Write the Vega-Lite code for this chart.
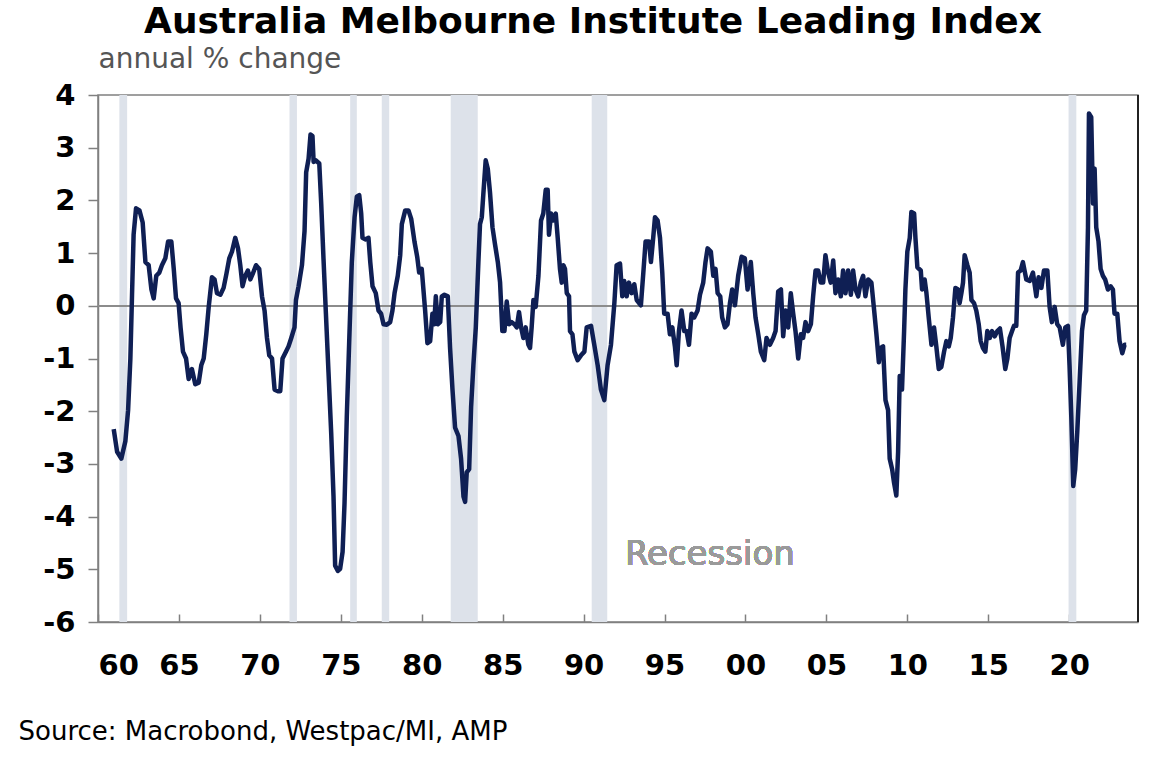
{
  "$schema": "https://vega.github.io/schema/vega-lite/v6.json",
  "width": 1040,
  "height": 527,
  "autosize": "none",
  "padding": {"left": 98, "top": 95, "right": 29, "bottom": 144},
  "background": "white",
  "title": {
    "text": "Australia Melbourne Institute Leading Index",
    "font": "DejaVu Sans",
    "fontSize": 36,
    "fontWeight": "bold",
    "color": "black",
    "anchor": "middle",
    "dx": -25,
    "offset": 4
  },
  "config": {
    "view": {"stroke": "#808080", "strokeWidth": 1.5},
    "axis": {
      "grid": false,
      "labelFont": "DejaVu Sans",
      "labelFontWeight": "bold",
      "labelFontSize": 29,
      "labelColor": "black",
      "domainColor": "#808080",
      "domainWidth": 1.5,
      "tickColor": "#808080",
      "tickWidth": 1.5
    }
  },
  "datasets": {
    "recessions": [
      {"start": 1961.32, "end": 1961.8},
      {"start": 1971.83, "end": 1972.29},
      {"start": 1975.58, "end": 1975.99},
      {"start": 1977.53, "end": 1977.99},
      {"start": 1981.79, "end": 1983.46},
      {"start": 1990.5, "end": 1991.46},
      {"start": 2019.96, "end": 2020.44}
    ],
    "index": [
      {"t": 1960.97, "v": -2.34}, {"t": 1961.18, "v": -2.77}, {"t": 1961.44, "v": -2.9}, {"t": 1961.69, "v": -2.57},
      {"t": 1961.86, "v": -1.98}, {"t": 1962.0, "v": -1.0}, {"t": 1962.1, "v": 0.18}, {"t": 1962.2, "v": 1.35},
      {"t": 1962.35, "v": 1.85}, {"t": 1962.56, "v": 1.81}, {"t": 1962.76, "v": 1.58}, {"t": 1962.93, "v": 0.83},
      {"t": 1963.13, "v": 0.77}, {"t": 1963.3, "v": 0.31}, {"t": 1963.44, "v": 0.14}, {"t": 1963.6, "v": 0.57},
      {"t": 1963.79, "v": 0.63}, {"t": 1963.95, "v": 0.77}, {"t": 1964.16, "v": 0.9}, {"t": 1964.33, "v": 1.22},
      {"t": 1964.53, "v": 1.22}, {"t": 1964.68, "v": 0.7}, {"t": 1964.82, "v": 0.14}, {"t": 1964.98, "v": 0.05},
      {"t": 1965.1, "v": -0.41}, {"t": 1965.25, "v": -0.87}, {"t": 1965.44, "v": -1.0}, {"t": 1965.6, "v": -1.39},
      {"t": 1965.8, "v": -1.2}, {"t": 1966.01, "v": -1.49}, {"t": 1966.22, "v": -1.46}, {"t": 1966.38, "v": -1.13},
      {"t": 1966.53, "v": -1.0}, {"t": 1966.69, "v": -0.54}, {"t": 1966.84, "v": -0.02}, {"t": 1967.04, "v": 0.54},
      {"t": 1967.2, "v": 0.5}, {"t": 1967.35, "v": 0.24}, {"t": 1967.56, "v": 0.21}, {"t": 1967.76, "v": 0.34},
      {"t": 1967.93, "v": 0.6}, {"t": 1968.11, "v": 0.9}, {"t": 1968.28, "v": 1.03}, {"t": 1968.48, "v": 1.29},
      {"t": 1968.65, "v": 1.09}, {"t": 1968.79, "v": 0.77}, {"t": 1968.93, "v": 0.37}, {"t": 1969.1, "v": 0.57},
      {"t": 1969.26, "v": 0.67}, {"t": 1969.41, "v": 0.5}, {"t": 1969.55, "v": 0.6}, {"t": 1969.76, "v": 0.77},
      {"t": 1969.96, "v": 0.7}, {"t": 1970.13, "v": 0.18}, {"t": 1970.29, "v": -0.09}, {"t": 1970.44, "v": -0.61},
      {"t": 1970.58, "v": -0.94}, {"t": 1970.75, "v": -1.0}, {"t": 1970.91, "v": -1.59}, {"t": 1971.12, "v": -1.62},
      {"t": 1971.26, "v": -1.62}, {"t": 1971.4, "v": -1.0}, {"t": 1971.61, "v": -0.87}, {"t": 1971.77, "v": -0.77},
      {"t": 1971.94, "v": -0.61}, {"t": 1972.14, "v": -0.41}, {"t": 1972.23, "v": 0.11}, {"t": 1972.39, "v": 0.37},
      {"t": 1972.6, "v": 0.77}, {"t": 1972.76, "v": 1.42}, {"t": 1972.86, "v": 2.53}, {"t": 1973.01, "v": 2.79},
      {"t": 1973.13, "v": 3.25}, {"t": 1973.25, "v": 3.22}, {"t": 1973.32, "v": 2.73}, {"t": 1973.46, "v": 2.76},
      {"t": 1973.67, "v": 2.7}, {"t": 1973.79, "v": 1.94}, {"t": 1973.93, "v": 0.9}, {"t": 1974.08, "v": -0.15},
      {"t": 1974.24, "v": -1.26}, {"t": 1974.41, "v": -2.44}, {"t": 1974.55, "v": -3.62}, {"t": 1974.65, "v": -4.93},
      {"t": 1974.82, "v": -5.03}, {"t": 1974.96, "v": -4.99}, {"t": 1975.11, "v": -4.67}, {"t": 1975.23, "v": -3.75},
      {"t": 1975.37, "v": -2.11}, {"t": 1975.52, "v": -0.67}, {"t": 1975.68, "v": 0.83}, {"t": 1975.85, "v": 1.68},
      {"t": 1975.99, "v": 2.07}, {"t": 1976.14, "v": 2.1}, {"t": 1976.26, "v": 1.75}, {"t": 1976.34, "v": 1.29},
      {"t": 1976.51, "v": 1.26}, {"t": 1976.71, "v": 1.29}, {"t": 1976.82, "v": 0.83}, {"t": 1976.96, "v": 0.37},
      {"t": 1977.16, "v": 0.24}, {"t": 1977.33, "v": -0.09}, {"t": 1977.49, "v": -0.15}, {"t": 1977.64, "v": -0.35},
      {"t": 1977.84, "v": -0.36}, {"t": 1978.05, "v": -0.31}, {"t": 1978.19, "v": -0.09}, {"t": 1978.32, "v": 0.24},
      {"t": 1978.52, "v": 0.57}, {"t": 1978.67, "v": 0.96}, {"t": 1978.77, "v": 1.55}, {"t": 1978.98, "v": 1.81},
      {"t": 1979.18, "v": 1.81}, {"t": 1979.35, "v": 1.65}, {"t": 1979.55, "v": 1.22}, {"t": 1979.72, "v": 0.93},
      {"t": 1979.84, "v": 0.63}, {"t": 1980.0, "v": 0.7}, {"t": 1980.21, "v": -0.09}, {"t": 1980.35, "v": -0.71},
      {"t": 1980.52, "v": -0.67}, {"t": 1980.66, "v": -0.15}, {"t": 1980.77, "v": -0.35}, {"t": 1980.87, "v": 0.18},
      {"t": 1980.99, "v": -0.35}, {"t": 1981.14, "v": -0.31}, {"t": 1981.24, "v": 0.18}, {"t": 1981.4, "v": 0.21},
      {"t": 1981.61, "v": 0.18}, {"t": 1981.75, "v": -0.8}, {"t": 1981.9, "v": -1.59}, {"t": 1982.06, "v": -2.31},
      {"t": 1982.27, "v": -2.47}, {"t": 1982.43, "v": -2.9}, {"t": 1982.58, "v": -3.62}, {"t": 1982.68, "v": -3.72},
      {"t": 1982.78, "v": -3.16}, {"t": 1982.93, "v": -3.1}, {"t": 1983.05, "v": -1.92}, {"t": 1983.19, "v": -1.13},
      {"t": 1983.34, "v": -0.41}, {"t": 1983.5, "v": 0.83}, {"t": 1983.6, "v": 1.55}, {"t": 1983.71, "v": 1.68},
      {"t": 1983.81, "v": 2.14}, {"t": 1983.95, "v": 2.76}, {"t": 1984.08, "v": 2.6}, {"t": 1984.22, "v": 2.14},
      {"t": 1984.37, "v": 1.49}, {"t": 1984.53, "v": 1.16}, {"t": 1984.7, "v": 0.83}, {"t": 1984.84, "v": 0.44},
      {"t": 1984.98, "v": -0.48}, {"t": 1985.11, "v": -0.48}, {"t": 1985.25, "v": 0.08}, {"t": 1985.4, "v": -0.35},
      {"t": 1985.56, "v": -0.31}, {"t": 1985.72, "v": -0.35}, {"t": 1985.87, "v": -0.41}, {"t": 1986.01, "v": -0.12},
      {"t": 1986.14, "v": -0.41}, {"t": 1986.28, "v": -0.61}, {"t": 1986.42, "v": -0.41}, {"t": 1986.59, "v": -0.74},
      {"t": 1986.69, "v": -0.8}, {"t": 1986.79, "v": -0.41}, {"t": 1986.9, "v": 0.11}, {"t": 1987.04, "v": -0.02},
      {"t": 1987.21, "v": 0.57}, {"t": 1987.37, "v": 1.62}, {"t": 1987.51, "v": 1.75}, {"t": 1987.66, "v": 2.2},
      {"t": 1987.78, "v": 2.2}, {"t": 1987.86, "v": 1.35}, {"t": 1987.99, "v": 1.75}, {"t": 1988.13, "v": 1.62},
      {"t": 1988.28, "v": 1.75}, {"t": 1988.4, "v": 1.29}, {"t": 1988.54, "v": 0.7}, {"t": 1988.65, "v": 0.44},
      {"t": 1988.75, "v": 0.77}, {"t": 1988.85, "v": 0.7}, {"t": 1988.96, "v": 0.24}, {"t": 1989.1, "v": 0.18},
      {"t": 1989.16, "v": -0.48}, {"t": 1989.31, "v": -0.54}, {"t": 1989.43, "v": -0.87}, {"t": 1989.63, "v": -1.03},
      {"t": 1989.84, "v": -0.94}, {"t": 1990.05, "v": -0.87}, {"t": 1990.19, "v": -0.41}, {"t": 1990.46, "v": -0.38},
      {"t": 1990.66, "v": -0.74}, {"t": 1990.87, "v": -1.13}, {"t": 1991.07, "v": -1.59}, {"t": 1991.28, "v": -1.79},
      {"t": 1991.48, "v": -1.13}, {"t": 1991.69, "v": -0.74}, {"t": 1991.9, "v": 0.05}, {"t": 1992.04, "v": 0.77},
      {"t": 1992.25, "v": 0.8}, {"t": 1992.39, "v": 0.18}, {"t": 1992.51, "v": 0.47}, {"t": 1992.66, "v": 0.18},
      {"t": 1992.8, "v": 0.44}, {"t": 1992.97, "v": 0.24}, {"t": 1993.13, "v": 0.41}, {"t": 1993.28, "v": 0.11},
      {"t": 1993.54, "v": 0.01}, {"t": 1993.69, "v": 0.63}, {"t": 1993.83, "v": 1.22}, {"t": 1994.04, "v": 1.22},
      {"t": 1994.16, "v": 0.83}, {"t": 1994.3, "v": 1.29}, {"t": 1994.41, "v": 1.68}, {"t": 1994.57, "v": 1.62},
      {"t": 1994.72, "v": 1.29}, {"t": 1994.86, "v": 0.63}, {"t": 1994.98, "v": -0.15}, {"t": 1995.19, "v": -0.15},
      {"t": 1995.33, "v": -0.54}, {"t": 1995.48, "v": -0.41}, {"t": 1995.64, "v": -0.77}, {"t": 1995.75, "v": -1.13},
      {"t": 1995.89, "v": -0.48}, {"t": 1996.05, "v": -0.09}, {"t": 1996.22, "v": -0.48}, {"t": 1996.36, "v": -0.48},
      {"t": 1996.51, "v": -0.74}, {"t": 1996.67, "v": -0.15}, {"t": 1996.84, "v": -0.22}, {"t": 1997.04, "v": -0.09},
      {"t": 1997.19, "v": 0.21}, {"t": 1997.39, "v": 0.44}, {"t": 1997.53, "v": 0.83}, {"t": 1997.66, "v": 1.09},
      {"t": 1997.86, "v": 1.03}, {"t": 1998.01, "v": 0.57}, {"t": 1998.15, "v": 0.7}, {"t": 1998.28, "v": 0.24},
      {"t": 1998.44, "v": 0.18}, {"t": 1998.56, "v": -0.22}, {"t": 1998.73, "v": -0.41}, {"t": 1998.89, "v": -0.35},
      {"t": 1999.04, "v": 0.05}, {"t": 1999.18, "v": 0.31}, {"t": 1999.35, "v": 0.01}, {"t": 1999.55, "v": 0.57},
      {"t": 1999.76, "v": 0.93}, {"t": 1999.96, "v": 0.9}, {"t": 2000.13, "v": 0.31}, {"t": 2000.33, "v": 0.83},
      {"t": 2000.48, "v": 0.24}, {"t": 2000.62, "v": -0.22}, {"t": 2000.79, "v": -0.54}, {"t": 2000.95, "v": -0.87},
      {"t": 2001.16, "v": -1.03}, {"t": 2001.3, "v": -0.61}, {"t": 2001.51, "v": -0.74}, {"t": 2001.71, "v": -0.61},
      {"t": 2001.86, "v": -0.48}, {"t": 2002.02, "v": 0.27}, {"t": 2002.19, "v": 0.31}, {"t": 2002.33, "v": -0.58},
      {"t": 2002.47, "v": -0.09}, {"t": 2002.64, "v": -0.41}, {"t": 2002.8, "v": 0.24}, {"t": 2002.95, "v": -0.15},
      {"t": 2003.09, "v": -0.48}, {"t": 2003.26, "v": -1.0}, {"t": 2003.42, "v": -0.54}, {"t": 2003.56, "v": -0.61},
      {"t": 2003.71, "v": -0.31}, {"t": 2003.87, "v": -0.48}, {"t": 2004.04, "v": -0.35}, {"t": 2004.18, "v": 0.18},
      {"t": 2004.33, "v": 0.67}, {"t": 2004.49, "v": 0.67}, {"t": 2004.65, "v": 0.44}, {"t": 2004.8, "v": 0.44},
      {"t": 2004.94, "v": 0.96}, {"t": 2005.11, "v": 0.63}, {"t": 2005.27, "v": 0.44}, {"t": 2005.42, "v": 0.86},
      {"t": 2005.56, "v": 0.24}, {"t": 2005.72, "v": 0.5}, {"t": 2005.89, "v": 0.18}, {"t": 2006.03, "v": 0.67},
      {"t": 2006.18, "v": 0.24}, {"t": 2006.34, "v": 0.67}, {"t": 2006.51, "v": 0.21}, {"t": 2006.65, "v": 0.67},
      {"t": 2006.8, "v": 0.31}, {"t": 2006.96, "v": 0.18}, {"t": 2007.12, "v": 0.44}, {"t": 2007.27, "v": 0.57},
      {"t": 2007.41, "v": 0.18}, {"t": 2007.58, "v": 0.5}, {"t": 2007.78, "v": 0.44}, {"t": 2007.95, "v": -0.09},
      {"t": 2008.09, "v": -0.54}, {"t": 2008.24, "v": -1.07}, {"t": 2008.36, "v": -0.8}, {"t": 2008.5, "v": -0.77},
      {"t": 2008.65, "v": -1.79}, {"t": 2008.81, "v": -1.98}, {"t": 2008.91, "v": -2.9}, {"t": 2009.06, "v": -3.1},
      {"t": 2009.18, "v": -3.36}, {"t": 2009.32, "v": -3.6}, {"t": 2009.43, "v": -2.77}, {"t": 2009.53, "v": -1.33},
      {"t": 2009.67, "v": -1.59}, {"t": 2009.8, "v": -0.48}, {"t": 2009.88, "v": 0.31}, {"t": 2010.0, "v": 1.03},
      {"t": 2010.15, "v": 1.29}, {"t": 2010.25, "v": 1.78}, {"t": 2010.42, "v": 1.75}, {"t": 2010.5, "v": 1.29},
      {"t": 2010.62, "v": 0.73}, {"t": 2010.83, "v": 0.67}, {"t": 2010.91, "v": 0.31}, {"t": 2011.07, "v": 0.5},
      {"t": 2011.18, "v": 0.24}, {"t": 2011.32, "v": -0.22}, {"t": 2011.49, "v": -0.74}, {"t": 2011.65, "v": -0.41},
      {"t": 2011.79, "v": -0.77}, {"t": 2011.94, "v": -1.2}, {"t": 2012.1, "v": -1.16}, {"t": 2012.27, "v": -0.87},
      {"t": 2012.41, "v": -0.67}, {"t": 2012.56, "v": -0.77}, {"t": 2012.68, "v": -0.61}, {"t": 2012.82, "v": -0.22},
      {"t": 2012.97, "v": 0.34}, {"t": 2013.13, "v": 0.31}, {"t": 2013.23, "v": 0.05}, {"t": 2013.34, "v": 0.24},
      {"t": 2013.44, "v": 0.44}, {"t": 2013.54, "v": 0.96}, {"t": 2013.71, "v": 0.77}, {"t": 2013.85, "v": 0.63},
      {"t": 2013.96, "v": 0.11}, {"t": 2014.12, "v": 0.05}, {"t": 2014.26, "v": -0.09}, {"t": 2014.41, "v": -0.35},
      {"t": 2014.53, "v": -0.67}, {"t": 2014.67, "v": -0.8}, {"t": 2014.82, "v": -0.87}, {"t": 2014.94, "v": -0.48},
      {"t": 2015.09, "v": -0.61}, {"t": 2015.23, "v": -0.48}, {"t": 2015.4, "v": -0.58}, {"t": 2015.56, "v": -0.48},
      {"t": 2015.72, "v": -0.43}, {"t": 2015.88, "v": -0.77}, {"t": 2016.05, "v": -1.2}, {"t": 2016.18, "v": -1.0},
      {"t": 2016.32, "v": -0.61}, {"t": 2016.47, "v": -0.48}, {"t": 2016.59, "v": -0.38}, {"t": 2016.73, "v": -0.38},
      {"t": 2016.84, "v": 0.63}, {"t": 2017.0, "v": 0.67}, {"t": 2017.14, "v": 0.83}, {"t": 2017.35, "v": 0.5},
      {"t": 2017.56, "v": 0.47}, {"t": 2017.76, "v": 0.63}, {"t": 2017.97, "v": 0.18}, {"t": 2018.11, "v": 0.54},
      {"t": 2018.28, "v": 0.34}, {"t": 2018.44, "v": 0.67}, {"t": 2018.65, "v": 0.67}, {"t": 2018.79, "v": -0.02},
      {"t": 2018.93, "v": -0.31}, {"t": 2019.1, "v": -0.02}, {"t": 2019.26, "v": -0.35}, {"t": 2019.41, "v": -0.41},
      {"t": 2019.61, "v": -0.74}, {"t": 2019.76, "v": -0.41}, {"t": 2019.92, "v": -0.38}, {"t": 2020.02, "v": -1.13},
      {"t": 2020.13, "v": -2.11}, {"t": 2020.25, "v": -3.42}, {"t": 2020.37, "v": -3.1}, {"t": 2020.5, "v": -2.38},
      {"t": 2020.64, "v": -1.46}, {"t": 2020.79, "v": -0.48}, {"t": 2020.91, "v": -0.18}, {"t": 2021.05, "v": -0.09},
      {"t": 2021.16, "v": 1.49}, {"t": 2021.22, "v": 3.65}, {"t": 2021.36, "v": 3.58}, {"t": 2021.47, "v": 1.94},
      {"t": 2021.57, "v": 2.6}, {"t": 2021.67, "v": 1.49}, {"t": 2021.81, "v": 1.22}, {"t": 2021.94, "v": 0.7},
      {"t": 2022.08, "v": 0.57}, {"t": 2022.22, "v": 0.5}, {"t": 2022.39, "v": 0.31}, {"t": 2022.56, "v": 0.37},
      {"t": 2022.7, "v": 0.31}, {"t": 2022.8, "v": -0.15}, {"t": 2022.97, "v": -0.15}, {"t": 2023.11, "v": -0.67},
      {"t": 2023.28, "v": -0.9}, {"t": 2023.42, "v": -0.74}, {"t": 2023.52, "v": -0.74}
    ]
  },
  "layer": [
    {
      "data": {"name": "recessions"},
      "mark": {"type": "rect", "color": "#dde2ea"},
      "encoding": {
        "x": {
          "field": "start",
          "type": "quantitative",
          "scale": {"domain": [1960, 2024.25], "nice": false, "zero": false},
          "axis": {
            "values": [1960, 1965, 1970, 1975, 1980, 1985, 1990, 1995, 2000, 2005, 2010, 2015, 2020],
            "labelExpr": "slice('0' + toString(datum.value % 100), -2)",
            "tickSize": -8,
            "labelPadding": 37,
            "title": "Source: Macrobond, Westpac/MI, AMP",
            "titleFont": "DejaVu Sans",
            "titleFontSize": 26,
            "titleFontWeight": "normal",
            "titleColor": "black",
            "titleAngle": 0,
            "titleAlign": "left",
            "titleBaseline": "alphabetic",
            "titleX": -80,
            "titleY": 117
          }
        },
        "x2": {"field": "end"}
      }
    },
    {
      "data": {"name": "index"},
      "layer": [
        {
          "mark": {"type": "rule", "color": "#8c8c8c", "strokeWidth": 1.2},
          "encoding": {"y": {"datum": 0}}
        },
        {
          "mark": {"type": "line", "color": "#0f1f54", "strokeWidth": 4.5, "strokeJoin": "round"},
          "encoding": {
            "x": {"field": "t", "type": "quantitative"},
            "y": {
              "field": "v",
              "type": "quantitative",
              "scale": {"domain": [-6, 4], "nice": false},
              "axis": {
                "values": [-6, -5, -4, -3, -2, -1, 0, 1, 2, 3, 4],
                "labelExpr": "toString(datum.value)",
                "tickSize": 10,
                "labelPadding": 13,
                "title": "annual % change",
                "titleFont": "DejaVu Sans",
                "titleFontSize": 28,
                "titleFontWeight": "normal",
                "titleColor": "#555555",
                "titleAngle": 0,
                "titleAlign": "left",
                "titleBaseline": "alphabetic",
                "titleX": 0,
                "titleY": -28
              }
            }
          }
        },
        {
          "mark": {"type": "text", "text": "Recession", "font": "DejaVu Sans", "fontSize": 34, "color": "#9a9a9a", "align": "left", "baseline": "middle"},
          "encoding": {"x": {"datum": 1992.55}, "y": {"datum": -4.73}}
        },
        {
          "mark": {"type": "rule", "color": "#222222", "strokeWidth": 1.5},
          "encoding": {"x": {"datum": 2024.25}}
        }
      ]
    }
  ]
}
